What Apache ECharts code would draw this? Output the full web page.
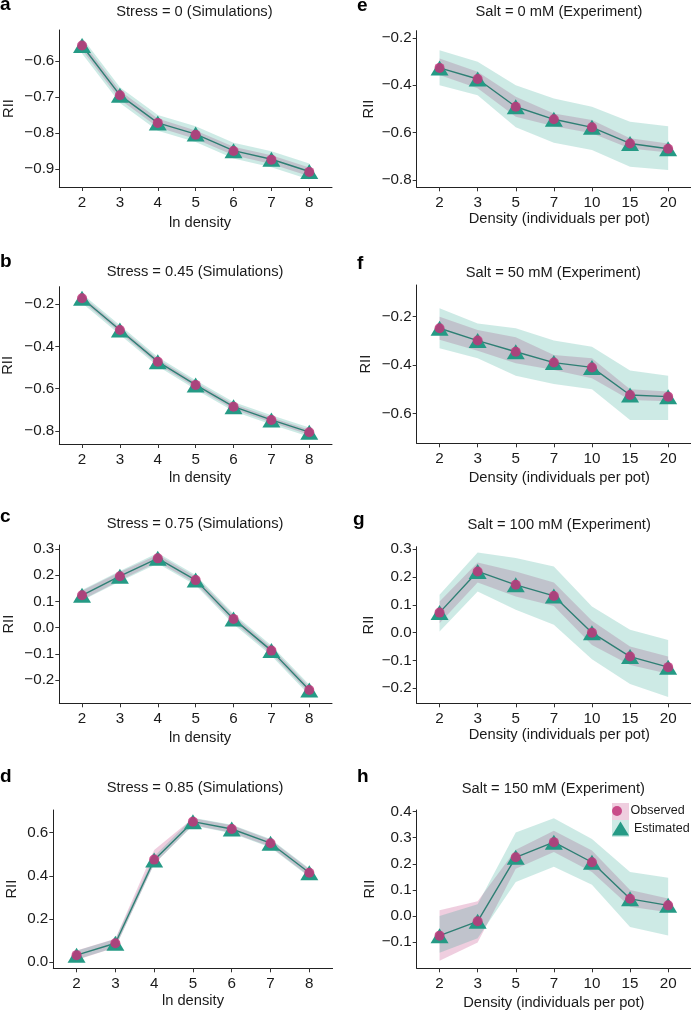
<!DOCTYPE html>
<html><head><meta charset="utf-8">
<script src="https://cdn.jsdelivr.net/npm/echarts@6/dist/echarts.min.js"></script>
<style>html,body{margin:0;padding:0;background:#fff}#c{width:691px;height:1011px}</style>
</head><body><div id="c"></div><script>
// ---------- data ----------
const lnDensityTicks = ['2','3','4','5','6','7','8'];
const potDensityTicks = ['2','3','5','7','10','15','20'];

// a: Stress = 0
const aEst = [-0.557,-0.695,-0.772,-0.803,-0.849,-0.873,-0.907];
const aObs = [-0.557,-0.695,-0.772,-0.805,-0.850,-0.874,-0.908];
const aEstLo = [-0.579,-0.717,-0.794,-0.825,-0.871,-0.895,-0.929];
const aEstHi = [-0.535,-0.673,-0.750,-0.781,-0.827,-0.851,-0.885];
const aObsLo = [-0.569,-0.707,-0.784,-0.817,-0.862,-0.886,-0.920];
const aObsHi = [-0.545,-0.683,-0.760,-0.793,-0.838,-0.862,-0.896];
const aYTicks = [-0.9,-0.8,-0.7,-0.6];

// b: Stress = 0.45
const bEst = [-0.172,-0.322,-0.472,-0.582,-0.685,-0.748,-0.806];
const bObs = [-0.172,-0.322,-0.472,-0.582,-0.685,-0.748,-0.806];
const bEstLo = [-0.194,-0.344,-0.494,-0.604,-0.707,-0.770,-0.828];
const bEstHi = [-0.150,-0.300,-0.450,-0.560,-0.663,-0.726,-0.784];
const bObsLo = [-0.184,-0.334,-0.484,-0.594,-0.697,-0.760,-0.818];
const bObsHi = [-0.160,-0.310,-0.460,-0.570,-0.673,-0.736,-0.794];
const bYTicks = [-0.8,-0.6,-0.4,-0.2];

// c: Stress = 0.75
const cEst = [0.123,0.196,0.264,0.181,0.033,-0.088,-0.238];
const cObs = [0.123,0.196,0.264,0.181,0.033,-0.088,-0.238];
const cEstLo = [0.103,0.176,0.244,0.161,0.013,-0.108,-0.258];
const cEstHi = [0.143,0.216,0.284,0.201,0.053,-0.068,-0.218];
const cObsLo = [0.105,0.180,0.250,0.168,0.020,-0.100,-0.250];
const cObsHi = [0.140,0.212,0.278,0.194,0.046,-0.076,-0.226];
const cYTicks = [-0.2,-0.1,0.0,0.1,0.2,0.3];

// d: Stress = 0.85
const dEst = [0.032,0.087,0.473,0.651,0.617,0.551,0.414];
const dObs = [0.032,0.087,0.475,0.651,0.617,0.551,0.414];
const dEstLo = [0.012,0.067,0.455,0.633,0.597,0.531,0.394];
const dEstHi = [0.052,0.107,0.491,0.669,0.637,0.571,0.434];
const dObsLo = [0.010,0.068,0.455,0.635,0.600,0.535,0.398];
const dObsHi = [0.054,0.108,0.520,0.667,0.634,0.567,0.430];
const dYTicks = [0.0,0.2,0.4,0.6];

// e: Salt = 0 mM
const eEst = [-0.327,-0.374,-0.491,-0.544,-0.578,-0.646,-0.668];
const eObs = [-0.327,-0.374,-0.491,-0.544,-0.578,-0.646,-0.668];
const eEstLo = [-0.400,-0.442,-0.578,-0.643,-0.674,-0.744,-0.758];
const eEstHi = [-0.252,-0.301,-0.400,-0.456,-0.491,-0.554,-0.573];
const eObsLo = [-0.357,-0.413,-0.533,-0.573,-0.603,-0.667,-0.684];
const eObsHi = [-0.287,-0.343,-0.449,-0.519,-0.547,-0.624,-0.646];
const eYTicks = [-0.8,-0.6,-0.4,-0.2];

// f: Salt = 50 mM
const fEst = [-0.248,-0.299,-0.345,-0.390,-0.410,-0.524,-0.531];
const fObs = [-0.248,-0.299,-0.345,-0.390,-0.410,-0.524,-0.531];
const fEstLo = [-0.331,-0.372,-0.445,-0.479,-0.500,-0.628,-0.628];
const fEstHi = [-0.165,-0.228,-0.248,-0.299,-0.324,-0.423,-0.445];
const fObsLo = [-0.296,-0.341,-0.393,-0.421,-0.455,-0.545,-0.550];
const fObsHi = [-0.200,-0.255,-0.285,-0.359,-0.372,-0.500,-0.510];
const fYTicks = [-0.6,-0.4,-0.2];

// g: Salt = 100 mM
const gEst = [0.072,0.220,0.172,0.132,0.000,-0.086,-0.124];
const gObs = [0.072,0.220,0.172,0.132,0.000,-0.086,-0.124];
const gEstLo = [0.004,0.148,0.082,0.028,-0.096,-0.185,-0.231];
const gEstHi = [0.136,0.288,0.268,0.238,0.094,0.010,-0.026];
const gObsLo = [0.034,0.180,0.130,0.096,-0.044,-0.116,-0.148];
const gObsHi = [0.112,0.252,0.220,0.180,0.043,-0.050,-0.086];
const gYTicks = [-0.2,-0.1,0.0,0.1,0.2,0.3];

// h: Salt = 150 mM
const hEst = [-0.075,-0.020,0.225,0.283,0.206,0.066,0.041];
const hObs = [-0.075,-0.020,0.225,0.283,0.206,0.066,0.041];
const hEstLo = [-0.140,-0.085,0.130,0.189,0.120,-0.042,-0.074];
const hEstHi = [0.000,0.045,0.320,0.374,0.295,0.169,0.147];
const hObsLo = [-0.171,-0.101,0.181,0.245,0.169,0.036,0.015];
const hObsHi = [0.022,0.057,0.254,0.327,0.251,0.100,0.067];
const hYTicks = [-0.1,0.0,0.1,0.2,0.3,0.4];

// ---------- style ----------
const FONT = '"Liberation Sans", Arial, Helvetica, sans-serif';
const TEAL_BAND = 'rgba(27,158,138,0.22)';
const PINK_BAND = 'rgba(190,50,120,0.24)';
const TRI = '#259a85';
const CIRC = '#c2357a';
const LINE = '#2e7f74';
const TXT = '#1a1a1a';
const FS = 14.7;
const FST = 15.2;

const panels = [
  {L:'a', title:'Stress = 0 (Simulations)', xName:'ln density', xl:lnDensityTicks, est:aEst, obs:aObs, eLo:aEstLo, eHi:aEstHi, oLo:aObsLo, oHi:aObsHi, yT:aYTicks, yMin:-0.95, yMax:-0.514,
   g:[59.3,30,272.7,157], tx:194.4, ty:12.3, lx:0, ly:5, ng:28, ndx:4.4, yng:43},
  {L:'b', title:'Stress = 0.45 (Simulations)', xName:'ln density', xl:lnDensityTicks, est:bEst, obs:bObs, eLo:bEstLo, eHi:bEstHi, oLo:bObsLo, oHi:bObsHi, yT:bYTicks, yMin:-0.862, yMax:-0.117,
   g:[59.3,286.7,272.7,157.3], tx:195, ty:272, lx:0, ly:261.5, ng:26.7, ndx:4.4, yng:44},
  {L:'c', title:'Stress = 0.75 (Simulations)', xName:'ln density', xl:lnDensityTicks, est:cEst, obs:cObs, eLo:cEstLo, eHi:cEstHi, oLo:cObsLo, oHi:cObsHi, yT:cYTicks, yMin:-0.289, yMax:0.315,
   g:[59.3,545,272.7,158.3], tx:195, ty:524, lx:0, ly:517, ng:26.8, ndx:4.4, yng:42.7},
  {L:'d', title:'Stress = 0.85 (Simulations)', xName:'ln density', xl:lnDensityTicks, est:dEst, obs:dObs, eLo:dEstLo, eHi:dEstHi, oLo:dObsLo, oHi:dObsHi, yT:dYTicks, yMin:-0.029, yMax:0.705,
   g:[53.3,810,279.3,158.3], tx:195, ty:788, lx:0, ly:776.5, ng:25.3, ndx:0, yng:34},
  {L:'e', title:'Salt = 0 mM (Experiment)', xName:'Density (individuals per pot)', xl:potDensityTicks, est:eEst, obs:eObs, eLo:eEstLo, eHi:eEstHi, oLo:eObsLo, oHi:eObsHi, yT:eYTicks, yMin:-0.831, yMax:-0.17,
   g:[416.7,30.7,274.3,156.6], tx:559, ty:12.3, lx:357, ly:6, ng:22.9, ndx:5.5, yng:40},
  {L:'f', title:'Salt = 50 mM (Experiment)', xName:'Density (individuals per pot)', xl:potDensityTicks, est:fEst, obs:fObs, eLo:fEstLo, eHi:fEstHi, oLo:fObsLo, oHi:fObsHi, yT:fYTicks, yMin:-0.724, yMax:-0.069,
   g:[416.7,285,274.3,158.3], tx:553.3, ty:272.5, lx:357, ly:263.5, ng:27.6, ndx:5.5, yng:43.4},
  {L:'g', title:'Salt = 100 mM (Experiment)', xName:'Density (individuals per pot)', xl:potDensityTicks, est:gEst, obs:gObs, eLo:gEstLo, eHi:gEstHi, oLo:gObsLo, oHi:gObsHi, yT:gYTicks, yMin:-0.254, yMax:0.309,
   g:[416.7,546.7,274.3,156.6], tx:559.2, ty:525.3, lx:353, ly:520, ng:21, ndx:5.5, yng:40},
  {L:'h', title:'Salt = 150 mM (Experiment)', xName:'Density (individuals per pot)', xl:potDensityTicks, est:hEst, obs:hObs, eLo:hEstLo, eHi:hEstHi, oLo:hObsLo, oHi:hObsHi, yT:hYTicks, yMin:-0.2, yMax:0.406,
   g:[416.7,810,274.3,158.3], tx:553.3, ty:789, lx:357, ly:776.5, ng:26.9, ndx:0, yng:39}
];

const X = [1,2,3,4,5,6,7];
const fmtY = v => { const s = (Math.abs(v) < 1e-9 ? 0 : v).toFixed(1); return s.replace('-', '\u2212'); };

// ribbon drawn as one polygon through the axis scales (api.coord)
function bandSeries(i, lo, hi, color, name) {
  return {
    type:'custom', name:name, xAxisIndex:i, yAxisIndex:i, silent:true, animation:false, z:1, clip:false,
    data: X.map((x,k)=>[x, lo[k], hi[k]]),
    encode:{x:0, y:[1,2]},
    renderItem:(params, api) => {
      if (params.dataIndex !== 0) return null;
      const pts = [];
      for (let k = 0; k < X.length; k++) pts.push(api.coord([X[k], hi[k]]));
      for (let k = X.length - 1; k >= 0; k--) pts.push(api.coord([X[k], lo[k]]));
      return {type:'polygon', shape:{points:pts}, style:{fill:color}};
    }
  };
}

const grid = [], xAxis = [], yAxis = [], series = [], graphic = [];
panels.forEach((p, i) => {
  grid.push({left:p.g[0], top:p.g[1], width:p.g[2], height:p.g[3], containLabel:false, outerBoundsMode:'none'});
  xAxis.push({
    gridIndex:i, type:'value', min:0.4, max:7.6,
    axisLine:{show:true, onZero:false, lineStyle:{color:'#222', width:1}},
    axisTick:{show:true, length:4, customValues:X, lineStyle:{color:'#333', width:1}},
    axisLabel:{customValues:X, formatter:(v)=>p.xl[Math.round(v)-1], margin:8, fontSize:FST, color:TXT, fontFamily:FONT},
    splitLine:{show:false},
    name:p.xName, nameLocation:'middle', nameGap:p.ng,
    nameTextStyle:{fontSize:FS, color:TXT, fontFamily:FONT, padding:[0,0,0,2*p.ndx]}
  });
  yAxis.push({
    gridIndex:i, type:'value', min:p.yMin, max:p.yMax,
    axisLine:{show:true, onZero:false, lineStyle:{color:'#222', width:1}},
    axisTick:{show:true, length:4, customValues:p.yT, lineStyle:{color:'#333', width:1}},
    axisLabel:{customValues:p.yT, formatter:fmtY, margin:5, fontSize:FST, color:TXT, fontFamily:FONT},
    splitLine:{show:false},
    name:'RII', nameLocation:'middle', nameGap:p.yng,
    nameTextStyle:{fontSize:FS, color:TXT, fontFamily:FONT}
  });
  series.push(bandSeries(i, p.oLo, p.oHi, PINK_BAND, 'Observed band'));
  series.push(bandSeries(i, p.eLo, p.eHi, TEAL_BAND, 'Estimated band'));
  series.push({type:'line', name:'Estimated', xAxisIndex:i, yAxisIndex:i, animation:false, clip:false, z:3,
    data:X.map((x,k)=>[x, p.est[k]]), symbol:'triangle', symbolSize:[18,15], showSymbol:true,
    itemStyle:{color:TRI}, lineStyle:{color:LINE, width:1.4}});
  series.push({type:'scatter', name:'Observed', xAxisIndex:i, yAxisIndex:i, animation:false, clip:false, z:4,
    data:X.map((x,k)=>[x, p.obs[k]]), symbol:'circle', symbolSize:10, itemStyle:{color:CIRC, opacity:0.85}});
  graphic.push({type:'text', x:p.tx, y:p.ty, style:{text:p.title, font:FS+'px '+FONT, fill:TXT, textAlign:'center', textVerticalAlign:'middle'}});
  graphic.push({type:'text', x:p.lx, y:p.ly, style:{text:p.L, font:'bold 19px '+FONT, fill:'#000', textAlign:'left', textVerticalAlign:'middle'}});
});

// legend key backgrounds
graphic.push({type:'rect', shape:{x:612, y:803, width:17, height:17}, style:{fill:PINK_BAND}, z:-1});
graphic.push({type:'rect', shape:{x:612, y:820, width:17, height:17}, style:{fill:TEAL_BAND}, z:-1});

const legend = [
  {orient:'vertical', left:612, top:804.5, padding:0, itemWidth:17, itemHeight:10, selectedMode:false,
   data:[{name:'Observed', icon:'circle', itemStyle:{color:CIRC}}], textStyle:{fontSize:12.5, color:TXT, fontFamily:FONT}},
  {orient:'vertical', left:612, top:821.5, padding:0, itemWidth:17, itemHeight:14, selectedMode:false,
   data:[{name:'Estimated', icon:'triangle', itemStyle:{color:TRI}}], textStyle:{fontSize:12.5, color:TXT, fontFamily:FONT}}
];

const chart = echarts.init(document.getElementById('c'), null, {renderer:'canvas'});
chart.setOption({animation:false, backgroundColor:'#fff', grid, xAxis, yAxis, series, graphic, legend});
</script></body></html>
